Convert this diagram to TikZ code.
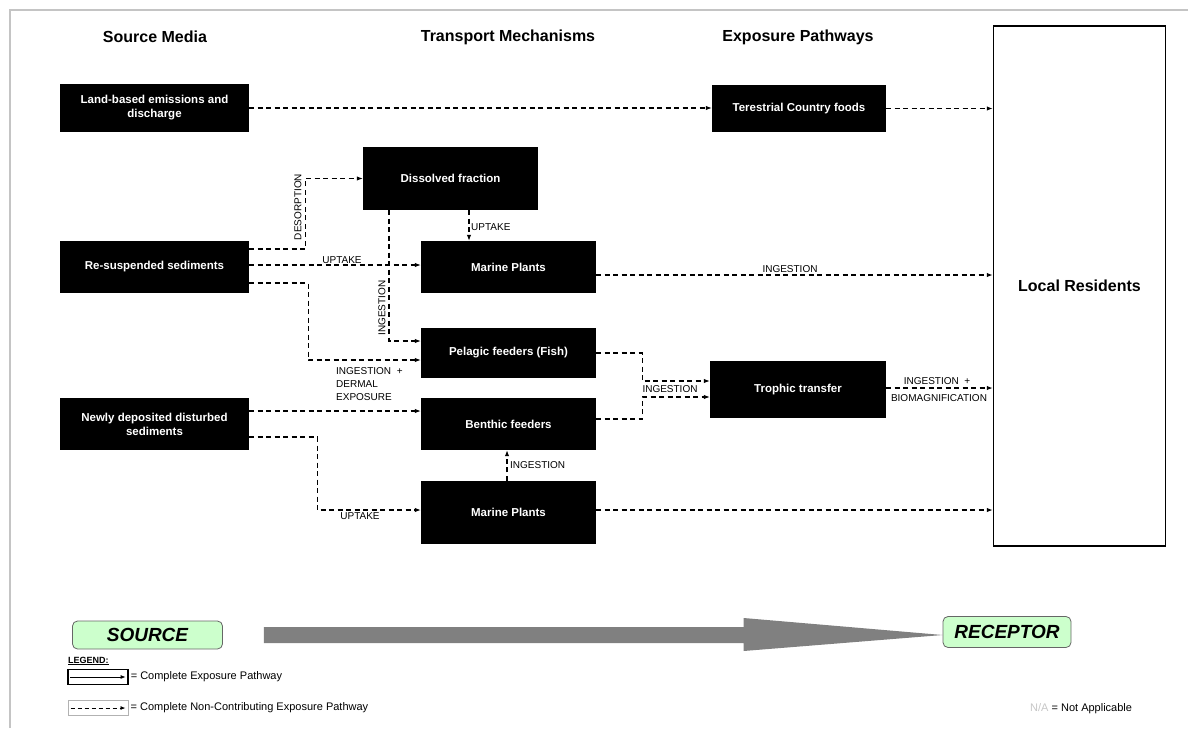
\documentclass[tikz,border=0pt]{standalone}
\usepackage{fontspec}
\setmainfont{Liberation Sans}
\usepackage{tikz}
\usetikzlibrary{arrows.meta}
\usepackage{xcolor}

\definecolor{tagfill}{HTML}{CCFFCC}
\definecolor{framegray}{HTML}{C4C4C4}
\definecolor{bigarrow}{HTML}{808080}

\tikzset{
  box/.style={fill=black,text=white,inner sep=0pt,align=center,font=\bfseries\fontsize{11.5}{14}\selectfont},
  pathway/.style={line width=1.1pt,dash pattern=on 5pt off 3.5pt,-{Latex[length=6pt,width=4.5pt]}},
  lbl/.style={inner sep=1pt,font=\fontsize{10}{13}\selectfont},
  colhead/.style={font=\bfseries\fontsize{16}{19}\selectfont},
  tag/.style={draw=gray!80!black,line width=0.8pt,rounded corners=5pt,fill=tagfill,inner sep=0pt,font=\bfseries\itshape\fontsize{19}{22}\selectfont},
  lgd/.style={inner sep=2pt,font=\fontsize{11}{13}\selectfont}
}

\begin{document}
\begin{tikzpicture}[x=1pt,y=-1pt]
\useasboundingbox (0,0) rectangle (1188,728);
\draw[framegray,line width=2.5pt] (10,728) -- (10,10) -- (1188,10);

\foreach \x/\t [count=\i] in {155/Source Media, 508/Transport Mechanisms, 798/Exposure Pathways}
	\node[colhead] (head\i) at (\x,37) {\t};

\node[box,minimum width=189pt,minimum height=48pt] (land) at (154.5,108) {Land-based emissions and\\discharge};
\node[box,minimum width=189pt,minimum height=52pt] (resus) at (154.5,267) {Re-suspended sediments};
\node[box,minimum width=189pt,minimum height=52pt] (newdep) at (154.5,424) {Newly deposited disturbed\\sediments};

\node[box,minimum width=175pt,minimum height=63pt] (dissolved) at (450.5,178.5) {Dissolved fraction};
\node[box,minimum width=175pt,minimum height=52pt] (plantsA) at (508.5,267) {Marine Plants};
\node[box,minimum width=175pt,minimum height=50pt] (pelagic) at (508.5,353) {Pelagic feeders (Fish)};
\node[box,minimum width=175pt,minimum height=52pt] (benthic) at (508.5,424) {Benthic feeders};
\node[box,minimum width=175pt,minimum height=63pt] (plantsB) at (508.5,512.5) {Marine Plants};

\node[box,minimum width=174pt,minimum height=47pt] (terr) at (799,108.5) {Terestrial Country foods};
\node[box,minimum width=176pt,minimum height=57pt] (trophic) at (798,389.5) {Trophic transfer};

\node[draw=black,fill=white,line width=1.5pt,minimum width=172pt,minimum height=520pt,inner sep=0pt] (local) at (1079.5,286) {};
\node[font=\bfseries\fontsize{16}{19}\selectfont] (localname) at (local.center) {Local Residents};

\draw[pathway] (land.east) -- (land.east -| terr.west);
\draw[pathway] (terr.east) -- (terr.east -| local.west);
\draw[pathway] ([yshift=18pt]resus.east) -- ++(56,0) |- (dissolved.west);
\draw[pathway] ([yshift=2pt]resus.east) -- ([yshift=2pt]resus.east -| plantsA.west);
\draw[pathway] ([yshift=-16pt]resus.east) -- ++(59,0) |- ([yshift=-7pt]pelagic.west);
\draw[pathway] ([xshift=-61.5pt]dissolved.south) |- ([yshift=12pt]pelagic.west);
\draw[pathway] ([xshift=18.5pt]dissolved.south) -- ([xshift=18.5pt]dissolved.south |- plantsA.north);
\draw[pathway] ([yshift=-8pt]plantsA.east) -- ([yshift=-8pt]plantsA.east -| local.west);
\draw[pathway] (pelagic.east) -- ++(46,0) |- ([yshift=8.5pt]trophic.west);
\draw[pathway] ([yshift=5pt]benthic.east) -- ++(46,0) |- ([yshift=-7.5pt]trophic.west);
\draw[pathway] ([yshift=1.5pt]trophic.east) -- ([yshift=1.5pt]trophic.east -| local.west);
\draw[pathway] ([yshift=13pt]newdep.east) -- ([yshift=13pt]newdep.east -| benthic.west);
\draw[pathway] ([yshift=-13pt]newdep.east) -- ++(68,0) |- ([yshift=2.5pt]plantsB.west);
\draw[pathway] ([xshift=-1.5pt]plantsB.north) -- ([xshift=-1.5pt]benthic.south);
\draw[pathway] ([yshift=2.5pt]plantsB.east) -- ([yshift=2.5pt]plantsB.east -| local.west);

\node[lbl,rotate=90] (desorb) at (298,207) {DESORPTION};
\node[lbl] (uptA) at (342,260) {UPTAKE};
\node[lbl,align=left,anchor=north west] (ingderm) at (335,366) {INGESTION\ \ +\\DERMAL\\EXPOSURE};
\node[lbl,rotate=90] (ingA) at (382,308) {INGESTION};
\node[lbl,anchor=west] (uptB) at (470,227) {UPTAKE};
\node[lbl] (ingB) at (790,269) {INGESTION};
\node[lbl] (ingC) at (670,389) {INGESTION};
\node[lbl] (ingbioA) at (937,381) {INGESTION\ \ +};
\node[lbl] (ingbioB) at (939,398) {BIOMAGNIFICATION};
\node[lbl,anchor=west] (ingD) at (509,465) {INGESTION};
\node[lbl] (uptC) at (360,516) {UPTAKE};

\node[tag,minimum width=150pt,minimum height=28pt] (source) at (147.5,635) {SOURCE};
\node[tag,minimum width=128pt,minimum height=31pt] (receptor) at (1007,632) {RECEPTOR};
\coordinate (tip) at (source.east -| receptor.west);
\fill[bigarrow] ([xshift=41pt,yshift=8pt]source.east) -- ([xshift=-199pt,yshift=8pt]tip) -- ([xshift=-199pt,yshift=17pt]tip)
	-- (tip) -- ([xshift=-199pt,yshift=-16pt]tip) -- ([xshift=-199pt,yshift=-8pt]tip) -- ([xshift=41pt,yshift=-8pt]source.east) -- cycle;

\node[anchor=west,inner sep=0pt,font=\bfseries\fontsize{9}{10}\selectfont] (legend) at (68,661) {\underline{LEGEND:}};
\node[draw=black,line width=1.2pt,minimum width=60pt,minimum height=15pt,inner sep=0pt] (keyA) at (98,677) {};
\draw[line width=0.8pt,-{Latex[length=5pt,width=4pt]}] ([xshift=3pt]keyA.west) -- ([xshift=-3pt]keyA.east);
\node[lgd,anchor=west] (keyAtxt) at (keyA.east) {= Complete Exposure Pathway};
\node[draw=gray!60,line width=1pt,minimum width=60pt,minimum height=15pt,inner sep=0pt] (keyB) at (98,708) {};
\draw[line width=0.8pt,dash pattern=on 4pt off 3pt,-{Latex[length=5pt,width=4pt]}] ([xshift=3pt]keyB.west) -- ([xshift=-3pt]keyB.east);
\node[lgd,anchor=west] (keyBtxt) at (keyB.east) {= Complete Non-Contributing Exposure Pathway};

\node[lgd,anchor=west] (na) at (1028,709) {\textcolor{gray!45}{N/A} = Not Applicable};
\end{tikzpicture}
\end{document}
